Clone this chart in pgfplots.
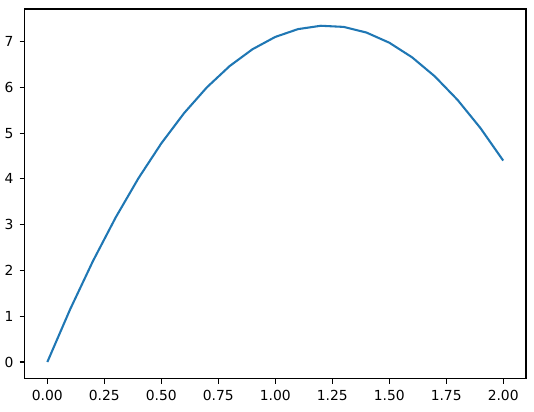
\documentclass[border=0pt]{standalone}
\usepackage{fontspec}
\setmainfont{DejaVu Sans}
\usepackage{pgfplots}
\pgfplotsset{compat=1.18}
\definecolor{mplblue}{HTML}{1F77B4}
\begin{document}
\begin{tikzpicture}
\begin{axis}[
  name=ax,
  scale only axis,
  width=362pt, height=267pt,
  xmin=-0.1, xmax=2.1,
  ymin=-0.367, ymax=7.71,
  xtick={0,0.25,0.5,0.75,1,1.25,1.5,1.75,2},
  xticklabels={0.00,0.25,0.50,0.75,1.00,1.25,1.50,1.75,2.00},
  ytick={0,1,2,3,4,5,6,7},
  tick align=outside,
  tick pos=left,
  major tick length=3.5pt,
  every tick/.style={black, line width=0.8pt},
  axis line style={line width=0.8pt},
  tick label style={font=\fontsize{10}{12}\selectfont},
  /pgf/number format/assume math mode=true,
  xticklabel style={yshift=-1pt},
  yticklabel style={xshift=-1pt},
]
\addplot[mplblue, line width=1.5pt] coordinates {
(0.0,0.000) (0.1,1.151) (0.2,2.204) (0.3,3.159) (0.4,4.016) (0.5,4.775)
(0.6,5.436) (0.7,5.999) (0.8,6.464) (0.9,6.831) (1.0,7.100) (1.1,7.271)
(1.2,7.344) (1.3,7.319) (1.4,7.196) (1.5,6.975) (1.6,6.656) (1.7,6.239)
(1.8,5.724) (1.9,5.111) (2.0,4.400)
};
\end{axis}
\path ([shift={(-16.6pt,-23.8pt)}]ax.south west) ([shift={(5.8pt,6.5pt)}]ax.north east);
\end{tikzpicture}
\end{document}
